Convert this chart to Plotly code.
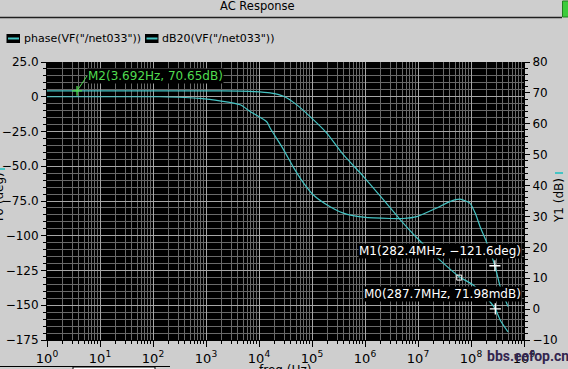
import math
import plotly.graph_objects as go

# ---------------- data ----------------
freq_phase = [1, 10, 100, 135, 776, 4.4e3, 6.8e3, 1.4e4, 1.62e4, 2.9e4, 4.5e4, 6.9e4,
              1.05e5, 1.9e5, 3.9e5, 9.3e5, 3.0e6, 5.2e6, 9.5e6, 2.2e7, 4.0e7, 6.2e7,
              9.5e7, 1.2e8, 1.48e8, 2.0e8, 2.824e8, 3.55e8, 5.0e8]
phase_deg = [0, 0, 0, 0, -1.2, -5.8, -10.6, -18, -22.5, -38, -51, -62,
             -70.5, -77.7, -83.7, -86.6, -87.6, -87.6, -86.2, -80.2, -75.4, -73.7,
             -76.5, -83.7, -93.3, -105.3, -121.6, -136.5, -151]

freq_db = [1, 3.692, 100, 1e3, 4.4e3, 6.8e3, 1.62e4, 2.9e4, 5.1e4, 9.1e4, 1.9e5, 3.9e5,
           9.3e5, 2.2e6, 4.6e6, 9.5e6, 2.2e7, 6.0e7, 1.1e8, 2.3e8, 2.877e8, 3.55e8, 5.0e8]
gain_db = [70.65, 70.65, 70.65, 70.64, 70.6, 70.5, 70.0, 68.9, 66.2, 62.4, 57.0, 50.0,
           43.0, 35.5, 29.0, 23.1, 17.0, 10.5, 7.8, 2.3, 0.072, -3.5, -7.4]

# markers
m2_freq, m2_db = 3.692, 70.65
m1_freq, m1_deg = 282.4e6, -121.6
m0_freq, m0_db = 287.7e6, 0.07198
sq_freq, sq_db = 6.0e7, 10.2

x_tickvals = [10 ** i for i in range(10)]
x_ticktext = ["10<sup>%d</sup>" % i for i in range(10)]
x_minor = [k * 10 ** i for i in range(9) for k in range(2, 10)]
y_tickvals = [25, 0, -25, -50, -75, -100, -125, -150, -175]
y_ticktext = ["25.0", "0", "\u221225.0", "\u221250.0", "\u221275.0", "\u2212100", "\u2212125", "\u2212150", "\u2212175"]
y2_tickvals = list(range(-10, 81, 10))
y2_ticktext = [("\u2212%d" % -v) if v < 0 else str(v) for v in y2_tickvals]

# ---------------- styling ----------------
W, H = 568, 369
L, R, T, B = 47, 524, 62, 340
CYAN = "#45c4c4"
GREEN = "#50dc50"
BG = "#cecece"
FONT = "DejaVu Sans"


def px(x):
    return (x - L) / (R - L)


def py(y):
    return (B - y) / (B - T)


fig = go.Figure()
fig.add_trace(go.Scatter(x=freq_phase, y=phase_deg, mode="lines", yaxis="y",
                         line=dict(color=CYAN, width=1.2, shape="spline", smoothing=0.6),
                         hoverinfo="skip"))
fig.add_trace(go.Scatter(x=freq_db, y=gain_db, mode="lines", yaxis="y2",
                         line=dict(color=CYAN, width=1.2, shape="spline", smoothing=0.6),
                         hoverinfo="skip"))
# marker symbols
fig.add_trace(go.Scatter(x=[m2_freq], y=[m2_db], yaxis="y2", mode="markers",
                         marker=dict(symbol="cross-thin", size=7, line=dict(color=GREEN, width=1.3)),
                         hoverinfo="skip"))
fig.add_trace(go.Scatter(x=[m1_freq], y=[m1_deg], yaxis="y", mode="markers",
                         marker=dict(symbol="cross-thin", size=8, line=dict(color="white", width=1.3)),
                         hoverinfo="skip"))
fig.add_trace(go.Scatter(x=[m0_freq], y=[m0_db], yaxis="y2", mode="markers",
                         marker=dict(symbol="cross-thin", size=8, line=dict(color="white", width=1.3)),
                         hoverinfo="skip"))
fig.add_trace(go.Scatter(x=[sq_freq], y=[sq_db], yaxis="y2", mode="markers",
                         marker=dict(symbol="square-open", size=5, color="white", line=dict(color="white", width=1)),
                         hoverinfo="skip"))

MAJ = "#a6a6a6"
MIN = "#696969"

fig.update_layout(
    width=W, height=H,
    margin=dict(l=L, r=W - R, t=T, b=H - B, pad=0, autoexpand=False),
    paper_bgcolor=BG, plot_bgcolor="black",
    showlegend=False,
    font=dict(family=FONT, size=12, color="black"),
    xaxis=dict(type="log", range=[0, 9], tickmode="array", tickvals=x_tickvals, ticktext=x_ticktext,
               ticks="outside", ticklen=6, tickcolor="black", showgrid=True, gridcolor=MAJ, gridwidth=1,
               tickfont=dict(size=13), zeroline=False, showline=True, linecolor="black", linewidth=1,
               automargin=False,
               minor=dict(tickmode="array", tickvals=x_minor, ticks="outside", ticklen=3,
                          tickcolor="black", showgrid=True, gridcolor=MIN, gridwidth=1),
               fixedrange=True),
    yaxis=dict(range=[-175, 25], tickmode="array", tickvals=y_tickvals, ticktext=y_ticktext,
               ticks="outside", ticklen=5, tickcolor="black", showgrid=True, gridcolor=MAJ, gridwidth=1,
               zeroline=False, showline=True, linecolor="black", linewidth=1,
               tickfont=dict(size=12), automargin=False,
               minor=dict(dtick=5, tick0=0, ticks="outside", ticklen=3, tickcolor="black",
                          showgrid=True, gridcolor=MIN, gridwidth=1),
               fixedrange=True),
    yaxis2=dict(range=[-10, 80], overlaying="y", side="right", tickmode="array",
                tickvals=y2_tickvals, ticktext=y2_ticktext, ticks="outside", ticklen=5,
                tickcolor="black", showgrid=False, zeroline=False, showline=True,
                linecolor="black", linewidth=1, tickfont=dict(size=12), automargin=False,
                minor=dict(dtick=2, tick0=0, ticks="outside", ticklen=3, tickcolor="black", showgrid=False),
                fixedrange=True),
)

shapes = []
annotations = []

# title bar line + green box
shapes.append(dict(type="line", xref="paper", yref="paper", x0=px(0), x1=px(562), y0=py(17.5), y1=py(17.5),
                   line=dict(color="#202020", width=1.5)))
shapes.append(dict(type="rect", xref="paper", yref="paper", x0=px(562.5), x1=px(569), y0=py(1), y1=py(17),
                   fillcolor="#3ccc3c", line=dict(color="#208020", width=1)))
annotations.append(dict(text="AC Response", xref="paper", yref="paper", x=px(257), y=py(6),
                        xanchor="center", yanchor="middle", showarrow=False,
                        font=dict(family=FONT, size=11.5, color="black")))

# legend row
for (x0, x1, tx, label) in [(6.5, 20, 21.5, 'phase(VF("/net033"))'),
                            (145, 158.5, 159.5, 'dB20(VF("/net033"))')]:
    shapes.append(dict(type="rect", xref="paper", yref="paper", x0=px(x0), x1=px(x1), y0=py(43), y1=py(34),
                       fillcolor="black", line=dict(width=0)))
    shapes.append(dict(type="line", xref="paper", yref="paper", x0=px(x0 + 1.5), x1=px(x1 - 1), y0=py(38.5),
                       y1=py(38.5), line=dict(color=CYAN, width=2)))
    annotations.append(dict(text=label, xref="paper", yref="paper", x=px(tx), y=py(38.5),
                            xanchor="left", yanchor="middle", showarrow=False,
                            font=dict(family=FONT, size=11, color="black")))

# axis titles
annotations.append(dict(text="Y0 (deg)", xref="paper", yref="paper", x=px(-1), y=py(198),
                        xanchor="center", yanchor="middle", textangle=-90, showarrow=False,
                        font=dict(family=FONT, size=12, color="black")))
shapes.append(dict(type="line", xref="paper", yref="paper", x0=px(0), x1=px(5), y0=py(169), y1=py(169),
                   line=dict(color=CYAN, width=2)))
annotations.append(dict(text="Y1 (dB)", xref="paper", yref="paper", x=px(559), y=py(201),
                        xanchor="center", yanchor="middle", textangle=-90, showarrow=False,
                        font=dict(family=FONT, size=12, color="black")))
shapes.append(dict(type="line", xref="paper", yref="paper", x0=px(555), x1=px(563), y0=py(173), y1=py(173),
                   line=dict(color=CYAN, width=2)))
annotations.append(dict(text="freq (Hz)", xref="paper", yref="paper", x=px(285), y=py(370),
                        xanchor="center", yanchor="middle", showarrow=False,
                        font=dict(family=FONT, size=12, color="black")))

# bottom status strip
shapes.append(dict(type="line", xref="paper", yref="paper", x0=px(0), x1=px(170), y0=py(366.5), y1=py(366.5),
                   line=dict(color="black", width=1)))
shapes.append(dict(type="rect", xref="paper", yref="paper", x0=px(73), x1=px(155), y0=py(370), y1=py(367),
                   fillcolor="white", line=dict(color="black", width=1)))

# marker labels
annotations.append(dict(text="M2(3.692Hz, 70.65dB)", x=math.log10(m2_freq), y=m2_db, xref="x", yref="y2",
                        showarrow=True, arrowhead=0, arrowwidth=1, arrowcolor=GREEN, ax=10, ay=-15,
                        xanchor="left", yanchor="middle", bgcolor="black", borderpad=0,
                        font=dict(family=FONT, size=12, color=GREEN)))
annotations.append(dict(text="M1(282.4MHz, \u2212121.6deg)", x=math.log10(m1_freq), y=m1_deg, xref="x", yref="y",
                        showarrow=False, xanchor="right", yanchor="middle", xshift=27, yshift=15,
                        bgcolor="black", borderpad=0, font=dict(family=FONT, size=12, color="white")))
annotations.append(dict(text="M0(287.7MHz, 71.98mdB)", x=math.log10(m0_freq), y=m0_db, xref="x", yref="y2",
                        showarrow=False, xanchor="right", yanchor="middle", xshift=27, yshift=15,
                        bgcolor="black", borderpad=0, font=dict(family=FONT, size=12, color="white")))

# watermark
annotations.append(dict(text="<b>bbs.eefop.cn</b>", xref="paper", yref="paper", x=px(528), y=py(356),
                        xanchor="center", yanchor="middle", showarrow=False,
                        font=dict(family="Roboto", size=14, color="#33254f")))

fig.update_layout(shapes=shapes, annotations=annotations)
fig.write_html("out.html", config={"displayModeBar": False, "staticPlot": True})
